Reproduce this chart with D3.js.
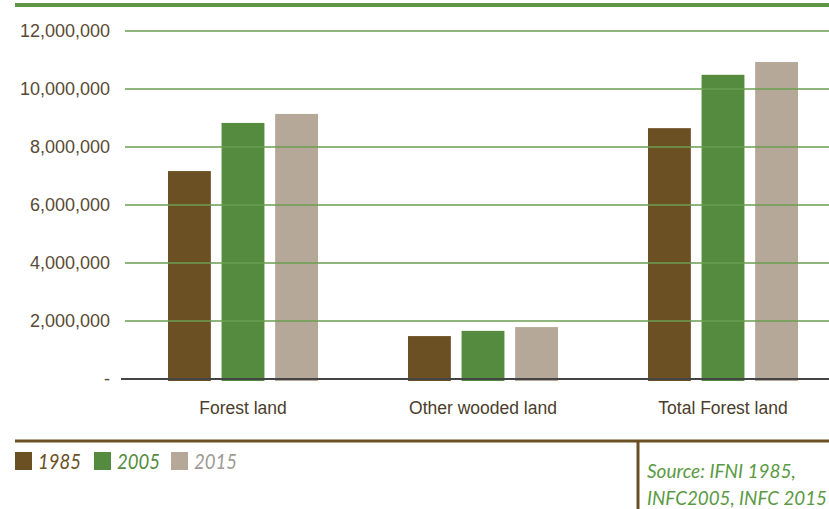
<!DOCTYPE html>
<html>
<head>
<meta charset="utf-8">
<script src="https://cdn.jsdelivr.net/npm/d3@7/dist/d3.min.js"></script>
<style>
  html, body { margin: 0; padding: 0; background: #fff; }
  svg { display: block; font-family: Lato, "Open Sans", sans-serif; }
</style>
</head>
<body>
<svg id="chart" width="829" height="509"></svg>
<script>
// Forest area (ha) by land category and inventory year
const categories = ["Forest land", "Other wooded land", "Total Forest land"];
const years = ["1985", "2005", "2015"];
const values1985 = [7170000, 1480000, 8650000];
const values2005 = [8830000, 1660000, 10490000];
const values2015 = [9140000, 1790000, 10930000];
const yTicks = [0, 2000000, 4000000, 6000000, 8000000, 10000000, 12000000];
const sourceLines = ["Source: IFNI 1985,", "INFC2005, INFC 2015"];

const series = [values1985, values2005, values2015];
const colors = ["#6b5024", "#558b3f", "#b6a898"];
const legendText = ["#6b5024", "#558b3f", "#9e9a94"];

const svg = d3.select("#chart");
const W = 829;
const plotLeft = 123, plotRight = 843, plotTop = 31, plotBottom = 379;

const x0 = d3.scaleBand().domain(categories).range([plotLeft, plotRight]).padding(0);
const x1 = d3.scaleBand().domain(years).range([0, 150]).paddingInner(0.2);
const y = d3.scaleLinear().domain([0, 12000000]).range([plotBottom, plotTop]);

// top rule
svg.append("line").attr("x1", 15).attr("x2", W).attr("y1", 5).attr("y2", 5)
  .attr("stroke", "#5f9545").attr("stroke-width", 4);

// bars
const groups = svg.append("g").selectAll("g").data(categories).join("g")
  .attr("transform", d => `translate(${x0(d) + x0.bandwidth() / 2 - 75},0)`);
groups.selectAll("rect")
  .data((c, i) => years.map((yr, j) => ({ yr, v: series[j][i], j })))
  .join("rect")
  .attr("x", d => x1(d.yr))
  .attr("width", x1.bandwidth())
  .attr("y", d => y(d.v))
  .attr("height", d => y(0) - y(d.v) + 2)
  .attr("fill", d => colors[d.j]);

// y axis: gridlines drawn over the bars
const yAxis = d3.axisLeft(y).tickValues(yTicks)
  .tickFormat(d => d === 0 ? "-" : d3.format(",")(d))
  .tickSize(0).tickPadding(0);
const yg = svg.append("g").attr("transform", "translate(110,0)").call(yAxis);
yg.select(".domain").remove();
yg.selectAll("text").attr("fill", "#5a4a33").style("font-size", "18px");

svg.append("g").selectAll("line").data(yTicks.filter(d => d > 0)).join("line")
  .attr("x1", 125).attr("x2", W)
  .attr("y1", d => y(d)).attr("y2", d => y(d))
  .attr("stroke", "#6a9e52").attr("stroke-width", 1.6);

// baseline
svg.append("line").attr("x1", 121).attr("x2", W).attr("y1", y(0)).attr("y2", y(0))
  .attr("stroke", "#444").attr("stroke-width", 2);

// category labels
const xAxis = d3.axisBottom(x0).tickSize(0).tickPadding(0);
const xg = svg.append("g").attr("transform", `translate(0,${plotBottom + 23})`).call(xAxis);
xg.select(".domain").remove();
xg.selectAll("text").attr("fill", "#4a3d2c").style("font-size", "17.5px").attr("dy", "0.71em");

// footer rules
svg.append("line").attr("x1", 15).attr("x2", W).attr("y1", 441).attr("y2", 441)
  .attr("stroke", "#6b5024").attr("stroke-width", 3);
svg.append("line").attr("x1", 638).attr("x2", 638).attr("y1", 441).attr("y2", 509)
  .attr("stroke", "#6b5024").attr("stroke-width", 3);

// legend
const legendX = [15, 94, 171];
const lg = svg.append("g").selectAll("g").data(years).join("g")
  .attr("transform", (d, i) => `translate(${legendX[i]},452)`);
lg.append("rect").attr("width", 17).attr("height", 18).attr("fill", (d, i) => colors[i]);
lg.append("text").attr("x", 23).attr("y", 17)
  .attr("fill", (d, i) => legendText[i])
  .style("font-size", "21px").style("font-style", "italic")
  .attr("textLength", 43).attr("lengthAdjust", "spacingAndGlyphs")
  .text(d => d);

// source note
svg.append("g").selectAll("text").data(sourceLines).join("text")
  .attr("x", 647).attr("y", (d, i) => 478 + i * 27)
  .attr("fill", "#5a9a44").style("font-size", "19px").style("font-style", "italic")
  .attr("textLength", (d, i) => i === 1 ? 180 : null)
  .attr("lengthAdjust", "spacingAndGlyphs")
  .text(d => d);
</script>
</body>
</html>
